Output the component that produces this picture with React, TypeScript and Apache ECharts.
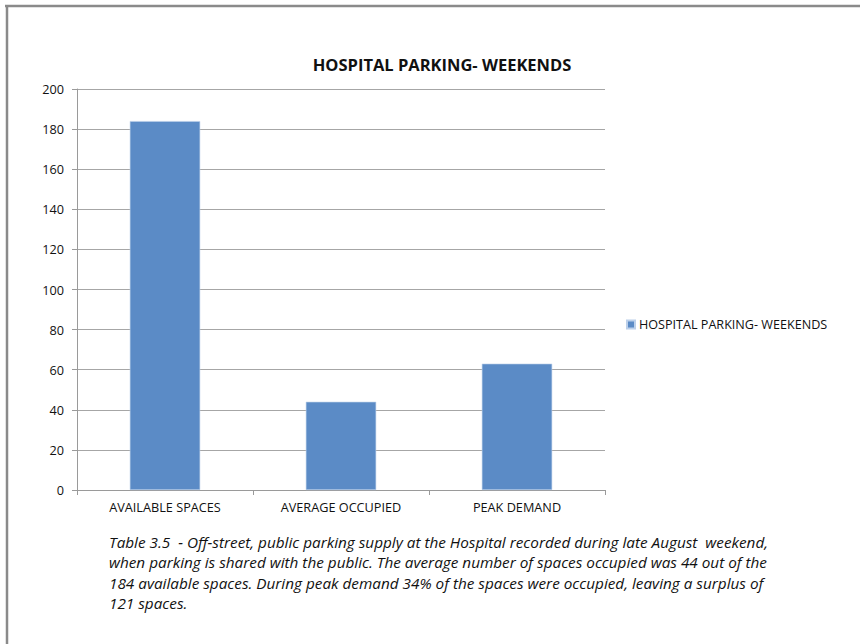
import React, { useEffect, useRef } from "react";
import * as echarts from "echarts";

const categories = ["AVAILABLE SPACES", "AVERAGE OCCUPIED", "PEAK DEMAND"];
const seriesName = "HOSPITAL PARKING- WEEKENDS";
const values = [184, 44, 63];
const chartTitle = "HOSPITAL PARKING- WEEKENDS";
const captionLines = [
  "Table 3.5  - Off-street, public parking supply at the Hospital recorded during late August  weekend,",
  "when parking is shared with the public. The average number of spaces occupied was 44 out of the",
  "184 available spaces. During peak demand 34% of the spaces were occupied, leaving a surplus of",
  "121 spaces.",
];

const FONT = "'Open Sans', 'Noto Sans', sans-serif";

export default function App() {
  const ref = useRef<HTMLDivElement>(null);
  useEffect(() => {
    if (!ref.current) return;
    const chart = echarts.init(ref.current, undefined, { renderer: "svg" });
    chart.setOption({
      animation: false,
      backgroundColor: "#ffffff",
      textStyle: { fontFamily: FONT },
      title: {
        text: chartTitle,
        left: 437,
        top: 51,
        textAlign: "center",
        textStyle: { fontSize: 16.5, fontWeight: "bold", color: "#111111", fontFamily: FONT },
      },
      legend: {
        left: 626,
        top: 318,
        padding: 0,
        icon: "rect",
        itemWidth: 8,
        itemHeight: 8,
        itemGap: 5,
        textStyle: { fontSize: 12.6, color: "#111111", fontFamily: FONT, padding: [0, 0, 0, -1] },
        data: [seriesName],
      },
      grid: { left: 77, top: 89, width: 528, height: 401, containLabel: false },
      xAxis: {
        type: "category",
        data: categories,
        axisLine: { show: true, lineStyle: { color: "#9a9a9a", width: 1 } },
        axisTick: { show: true, length: 5, lineStyle: { color: "#9a9a9a" } },
        axisLabel: { fontSize: 12.7, color: "#111111", margin: 10, fontFamily: FONT },
      },
      yAxis: {
        type: "value",
        min: 0,
        max: 200,
        interval: 20,
        axisLine: { show: true, lineStyle: { color: "#9a9a9a", width: 1 } },
        axisTick: { show: true, length: 5, lineStyle: { color: "#9a9a9a" } },
        axisLabel: { fontSize: 12.7, color: "#111111", margin: 13, fontFamily: FONT },
        splitLine: { show: true, lineStyle: { color: "#a6a6a6", width: 1 } },
      },
      series: [
        {
          name: seriesName,
          type: "bar",
          data: values,
          barWidth: "40%",
          itemStyle: { color: "#5B8BC6", borderColor: "#bcd0ea", borderWidth: 0.6 },
        },
      ],
      graphic: [
        {
          type: "line",
          shape: { x1: 5, y1: 6, x2: 860, y2: 6 },
          style: { stroke: "#8a8a8a", lineWidth: 2.5 },
        },
        {
          type: "line",
          shape: { x1: 7, y1: 5, x2: 7, y2: 644 },
          style: { stroke: "#8a8a8a", lineWidth: 2.5 },
        },
        ...captionLines.map((t, i) => ({
          type: "text",
          x: 109,
          y: 542 + i * 20.3,
          style: {
            text: t,
            font: `italic 15.3px ${FONT}`,
            fill: "#111111",
            verticalAlign: "middle",
          },
        })),
      ],
    });
    return () => chart.dispose();
  }, []);
  return (
    <div
      ref={ref}
      style={{ position: "fixed", left: 0, top: 0, width: 860, height: 644, background: "#fff" }}
    />
  );
}
